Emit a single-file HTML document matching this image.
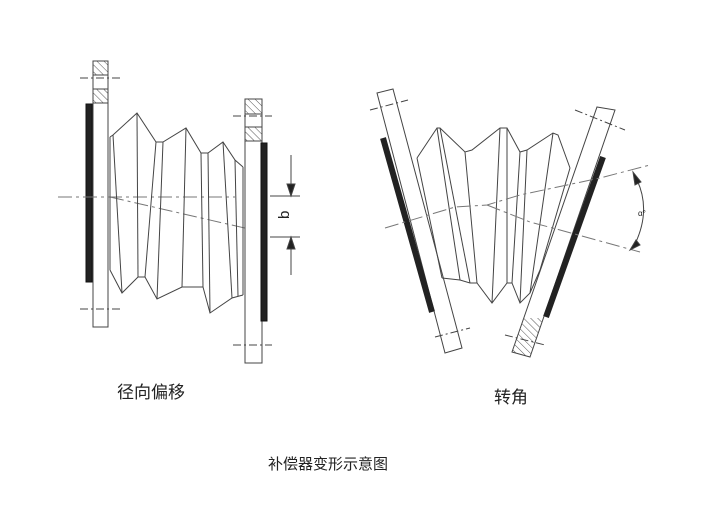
<!DOCTYPE html>
<html><head><meta charset="utf-8"><style>
html,body{margin:0;padding:0;background:#fff}
svg{display:block}
text{font-family:"Liberation Sans","Noto Sans CJK SC",sans-serif;fill:#222}
</style></head><body>
<svg width="704" height="519" viewBox="0 0 704 519" xmlns="http://www.w3.org/2000/svg">
<defs>
<pattern id="h" width="5" height="5" patternUnits="userSpaceOnUse" patternTransform="rotate(-45)">
<line x1="0" y1="0" x2="0" y2="5" stroke="#555" stroke-width="1"/></pattern>
<clipPath id="rf"><polygon points="597,107 615,110 530,357 512,352"/></clipPath>
</defs>
<g stroke="#444" stroke-width="1" fill="none">
<!-- LEFT FIGURE -->
<rect x="93" y="61" width="15" height="266" fill="#fff"/>
<rect x="93" y="61" width="15" height="14" fill="url(#h)"/>
<rect x="93" y="89" width="15" height="14" fill="url(#h)"/>
<line x1="80" y1="78" x2="120" y2="78" stroke-dasharray="8,3,2,3"/>
<line x1="80" y1="309" x2="120" y2="309" stroke-dasharray="8,3,2,3"/>
<rect x="86" y="104" width="6" height="178" fill="#222" stroke="#111"/>
<line x1="58" y1="197" x2="235" y2="197" stroke-dasharray="14,4,3,4" stroke="#777"/>
<line x1="110" y1="197" x2="262" y2="232" stroke-dasharray="14,4,3,4" stroke="#777"/>
<polyline points="110,137 113,135 137,113 156,142 163,142 186,128 201,153 208,153 223,142 235,160 243,167"/>
<polyline points="110,270 122,293 138,277 145,277 157,299 182,287 203,287 210,313 232,298 243,295"/>
<line x1="110" y1="137" x2="110" y2="270"/>
<line x1="113" y1="135" x2="122" y2="293"/>
<line x1="137" y1="113" x2="138" y2="277"/>
<line x1="156" y1="142" x2="145" y2="277"/>
<line x1="163" y1="142" x2="157" y2="299"/>
<line x1="186" y1="128" x2="182" y2="287"/>
<line x1="201" y1="153" x2="203" y2="287"/>
<line x1="208" y1="153" x2="210" y2="313"/>
<line x1="223" y1="142" x2="232" y2="298"/>
<line x1="235" y1="160" x2="238" y2="296"/>
<line x1="243" y1="167" x2="243" y2="295"/>
<rect x="245" y="99" width="17" height="264" fill="#fff"/>
<rect x="245" y="99" width="17" height="15" fill="url(#h)"/>
<rect x="245" y="127" width="17" height="14" fill="url(#h)"/>
<line x1="233" y1="116" x2="272" y2="116" stroke-dasharray="8,3,2,3"/>
<line x1="233" y1="345" x2="272" y2="345" stroke-dasharray="8,3,2,3"/>
<rect x="261" y="143" width="6" height="178" fill="#222" stroke="#111"/>
<line x1="270" y1="196" x2="300" y2="196"/>
<line x1="270" y1="237" x2="300" y2="237"/>
<line x1="291" y1="155" x2="291" y2="196"/>
<line x1="291" y1="237" x2="291" y2="275"/>
<polygon points="287,184 295,184 291,196" fill="#222"/>
<polygon points="287,249 295,249 291,237" fill="#222"/>
<!-- RIGHT FIGURE -->
<polygon points="377,93 393,89 462,348 445,353" fill="#fff"/>
<polygon points="597,107 615,110 530,357 512,352" fill="#fff"/>
<rect x="500" y="318" width="60" height="45" fill="url(#h)" stroke="none" clip-path="url(#rf)"/>
<line x1="383" y1="138" x2="432" y2="312" stroke="#222" stroke-width="6"/>
<line x1="603" y1="157" x2="546" y2="317" stroke="#222" stroke-width="6"/>
<line x1="370" y1="110" x2="408" y2="100" stroke-dasharray="8,3,2,3"/>
<line x1="435" y1="337" x2="470" y2="328" stroke-dasharray="8,3,2,3"/>
<line x1="575" y1="110" x2="625" y2="130" stroke-dasharray="8,3,2,3"/>
<line x1="505" y1="335" x2="545" y2="345" stroke-dasharray="8,3,2,3"/>
<polyline points="417,158 437,128 440,128 465,152 472,150 500,128 507,128 520,152 527,150 553,133 558,135 570,168"/>
<polyline points="442,278 460,280 470,283 477,283 492,303 507,283 512,283 520,303 530,293 540,270"/>
<line x1="417" y1="158" x2="442" y2="278"/>
<line x1="437" y1="128" x2="460" y2="280"/>
<line x1="440" y1="128" x2="470" y2="283"/>
<line x1="465" y1="152" x2="477" y2="283"/>
<line x1="500" y1="128" x2="492" y2="303"/>
<line x1="507" y1="128" x2="507" y2="283"/>
<line x1="520" y1="152" x2="512" y2="283"/>
<line x1="527" y1="150" x2="520" y2="303"/>
<line x1="553" y1="133" x2="530" y2="293"/>
<line x1="570" y1="168" x2="540" y2="270"/>
<polyline points="385,228 455,207 487,205 520,195 600,178 650,165" stroke-dasharray="14,4,3,4" stroke="#777"/>
<polyline points="487,205 530,222 560,230 640,252" stroke-dasharray="14,4,3,4" stroke="#777"/>
<path d="M637,180 Q652,212 633,248"/>
<polygon points="633,172 641,182 635,185" fill="#222"/>
<polygon points="630,250 636,240 640,245" fill="#222"/>
</g>
<text x="280" y="218" font-size="15" transform="rotate(-90 285 214)">b</text>
<text x="638" y="216" font-size="8">α°</text>
<text x="117" y="398" font-size="17">径向偏移</text>
<text x="494" y="403" font-size="17">转角</text>
<text x="268" y="469" font-size="15">补偿器变形示意图</text>
</svg>
</body></html>
